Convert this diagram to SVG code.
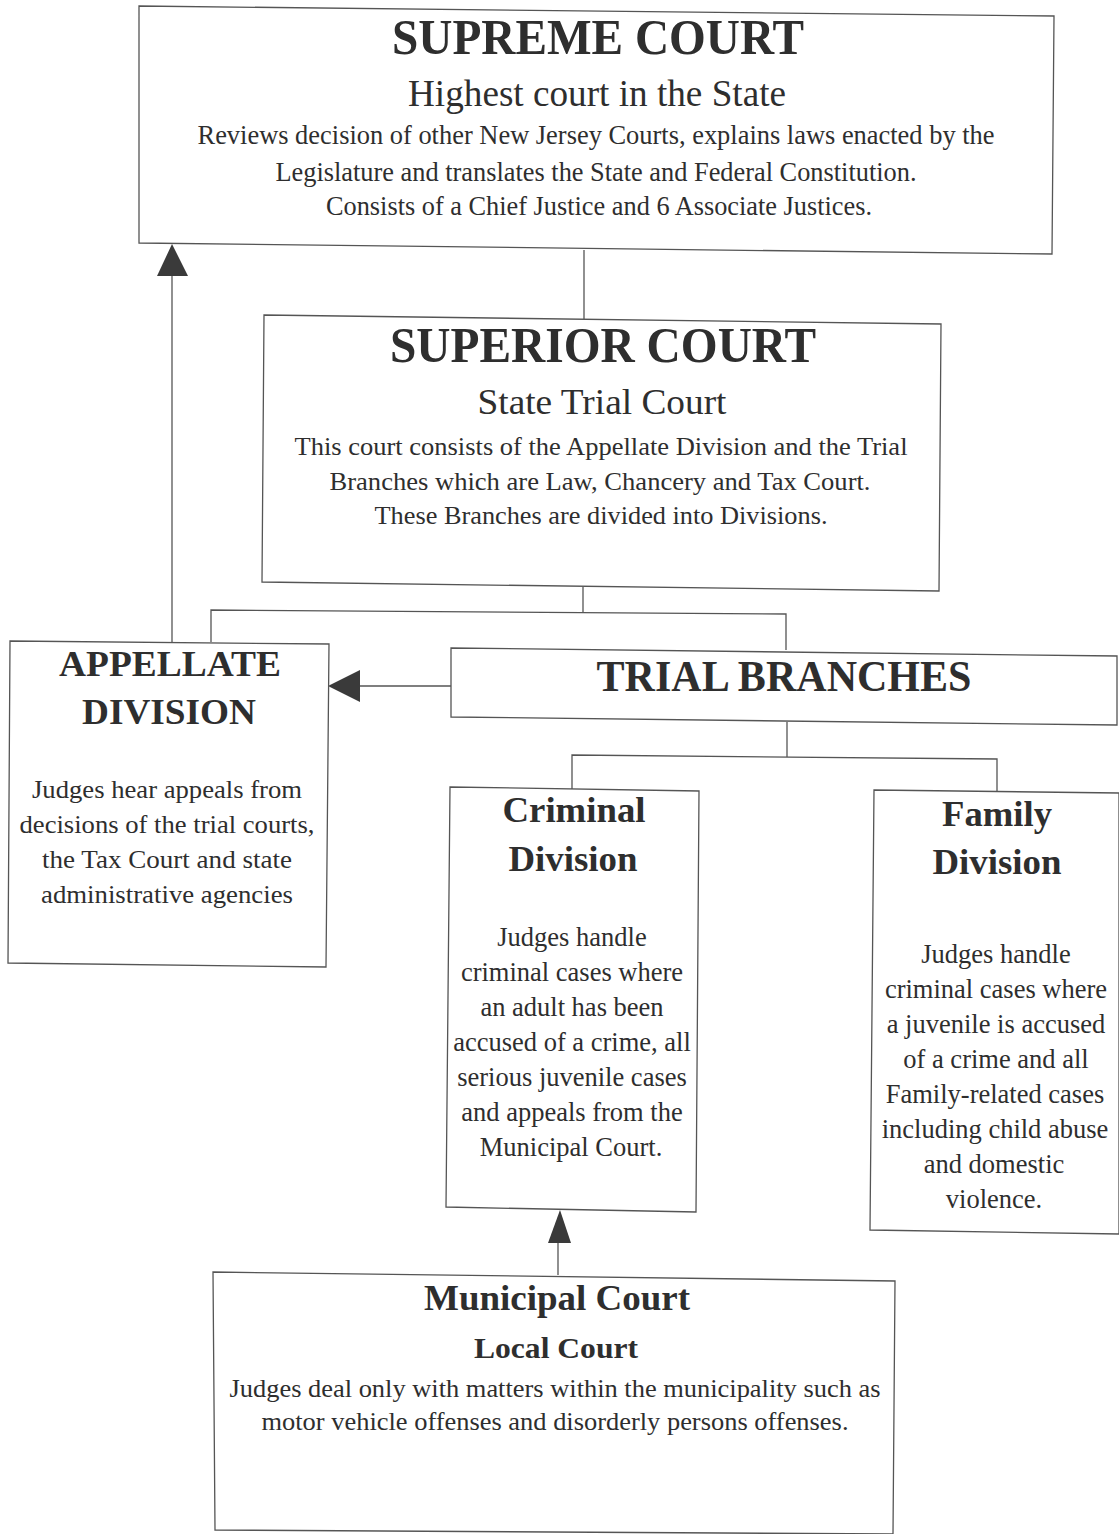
<svg xmlns="http://www.w3.org/2000/svg" width="1119" height="1534" viewBox="0 0 1119 1534">
<style>
  .box { fill: #ffffff; stroke: #555555; stroke-width: 1.3; }
  .conn { fill: none; stroke: #555555; stroke-width: 1.3; }
  .head { fill: #3a3a3a; stroke: none; }
  text { font-family: "Liberation Serif", "Times New Roman", serif; fill: #2e2e2e; text-anchor: middle; }
  .title { font-weight: bold; }
  .body { font-size: 26.5px; }
</style>
<rect x="0" y="0" width="1119" height="1534" fill="#ffffff"/>

<g id="connectors">
  <line class="conn" x1="584" y1="250" x2="584" y2="319"/>
  <polyline class="conn" points="583,587 583,612"/>
  <polyline class="conn" points="211,642 211,610 786,614 786,650"/>
  <line class="conn" x1="172" y1="642" x2="172" y2="274"/>
  <polygon class="head" points="172,244 157,276 188,276"/>
  <line class="conn" x1="451" y1="686" x2="358" y2="686"/>
  <polygon class="head" points="328,686 360,670 360,702"/>
  <line class="conn" x1="787" y1="722" x2="787" y2="757"/>
  <polyline class="conn" points="572,789 572,755 997,759 997,791"/>
  <line class="conn" x1="558" y1="1275" x2="558" y2="1242"/>
  <polygon class="head" points="560,1210 548,1243 571,1243"/>
</g>

<g id="supreme-court">
  <polygon class="box" points="139,6 1054,16 1052,254 139,243"/>
  <text class="title" x="598" y="54" font-size="50" textLength="412" lengthAdjust="spacingAndGlyphs">SUPREME COURT</text>
  <text x="597" y="106" font-size="37" textLength="378" lengthAdjust="spacingAndGlyphs">Highest court in the State</text>
  <text x="596" y="144" font-size="27" textLength="797" lengthAdjust="spacingAndGlyphs">Reviews decision of other New Jersey Courts, explains laws enacted by the</text>
  <text x="596" y="181" font-size="27" textLength="641" lengthAdjust="spacingAndGlyphs">Legislature and translates the State and Federal Constitution.</text>
  <text x="599" y="215" font-size="27" textLength="546" lengthAdjust="spacingAndGlyphs">Consists of a Chief Justice and 6 Associate Justices.</text>
</g>

<g id="superior-court">
  <polygon class="box" points="264,315 941,324 939,591 262,582"/>
  <text class="title" x="603" y="362" font-size="50" textLength="426" lengthAdjust="spacingAndGlyphs">SUPERIOR COURT</text>
  <text x="602" y="414" font-size="36" textLength="249" lengthAdjust="spacingAndGlyphs">State Trial Court</text>
  <text x="601" y="455" font-size="26" textLength="613" lengthAdjust="spacingAndGlyphs">This court consists of the Appellate Division and the Trial</text>
  <text x="600" y="490" font-size="26" textLength="541" lengthAdjust="spacingAndGlyphs">Branches which are Law, Chancery and Tax Court.</text>
  <text x="601" y="524" font-size="26" textLength="453" lengthAdjust="spacingAndGlyphs">These Branches are divided into Divisions.</text>
</g>

<g id="appellate-division">
  <polygon class="box" points="10,641 329,644 326,967 8,963"/>
  <text class="title" x="170" y="676" font-size="36" textLength="222" lengthAdjust="spacingAndGlyphs">APPELLATE</text>
  <text class="title" x="169" y="724" font-size="36" textLength="174" lengthAdjust="spacingAndGlyphs">DIVISION</text>
  <text x="167" y="798" font-size="26" textLength="270" lengthAdjust="spacingAndGlyphs">Judges hear appeals from</text>
  <text x="167" y="833" font-size="26" textLength="295" lengthAdjust="spacingAndGlyphs">decisions of the trial courts,</text>
  <text x="167" y="868" font-size="26" textLength="250" lengthAdjust="spacingAndGlyphs">the Tax Court and state</text>
  <text x="167" y="903" font-size="26" textLength="252" lengthAdjust="spacingAndGlyphs">administrative agencies</text>
</g>

<g id="trial-branches">
  <polygon class="box" points="451,648 1117,656 1117,725 451,717"/>
  <text class="title" x="784" y="691" font-size="44" textLength="375" lengthAdjust="spacingAndGlyphs">TRIAL BRANCHES</text>
</g>

<g id="criminal-division">
  <polygon class="box" points="450,787 699,791 696,1212 446,1207"/>
  <text class="title" x="574" y="822" font-size="36" textLength="143" lengthAdjust="spacingAndGlyphs">Criminal</text>
  <text class="title" x="573" y="871" font-size="36" textLength="129" lengthAdjust="spacingAndGlyphs">Division</text>
  <text class="body" x="572" y="946">Judges handle</text>
  <text class="body" x="572" y="981">criminal cases where</text>
  <text class="body" x="572" y="1016">an adult has been</text>
  <text class="body" x="572" y="1051">accused of a crime, all</text>
  <text class="body" x="572" y="1086">serious juvenile cases</text>
  <text class="body" x="572" y="1121">and appeals from the</text>
  <text class="body" x="571" y="1156">Municipal Court.</text>
</g>

<g id="family-division">
  <polygon class="box" points="874,790 1119,793 1119,1234 870,1230"/>
  <text class="title" x="997" y="826" font-size="36" textLength="110" lengthAdjust="spacingAndGlyphs">Family</text>
  <text class="title" x="997" y="874" font-size="36" textLength="129" lengthAdjust="spacingAndGlyphs">Division</text>
  <text class="body" x="996" y="963">Judges handle</text>
  <text class="body" x="996" y="998">criminal cases where</text>
  <text class="body" x="996" y="1033">a juvenile is accused</text>
  <text class="body" x="996" y="1068">of a crime and all</text>
  <text class="body" x="995" y="1103">Family-related cases</text>
  <text class="body" x="995" y="1138">including child abuse</text>
  <text class="body" x="994" y="1173">and domestic</text>
  <text class="body" x="994" y="1208">violence.</text>
</g>

<g id="municipal-court">
  <polygon class="box" points="213,1272 895,1281 893,1534 215,1530"/>
  <text class="title" x="557" y="1310" font-size="36" textLength="266" lengthAdjust="spacingAndGlyphs">Municipal Court</text>
  <text class="title" x="556" y="1358" font-size="30" textLength="164" lengthAdjust="spacingAndGlyphs">Local Court</text>
  <text x="555" y="1397" font-size="26" textLength="651" lengthAdjust="spacingAndGlyphs">Judges deal only with matters within the municipality such as</text>
  <text x="555" y="1430" font-size="26" textLength="587" lengthAdjust="spacingAndGlyphs">motor vehicle offenses and disorderly persons offenses.</text>
</g>
</svg>
